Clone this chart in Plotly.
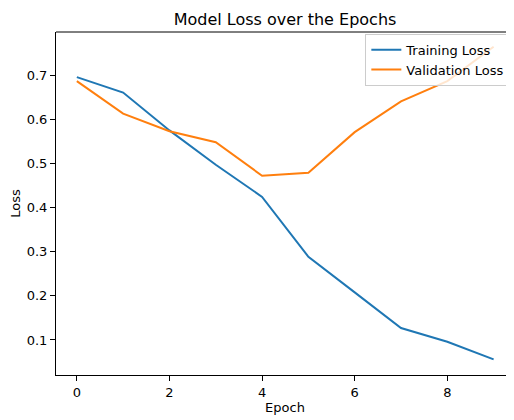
import plotly.graph_objects as go

epochs = [0, 1, 2, 3, 4, 5, 6, 7, 8, 9]
training_loss = [0.697, 0.662, 0.576, 0.498, 0.425, 0.289, 0.208, 0.127, 0.096, 0.056]
validation_loss = [0.688, 0.614, 0.574, 0.549, 0.473, 0.480, 0.572, 0.642, 0.688, 0.766]

FONT = "DejaVu Sans"
OFF = 8  # page body margin
W, H = 514 - OFF, 420 - OFF

fig = go.Figure()
fig.add_trace(go.Scatter(x=epochs, y=training_loss, mode="lines", name="Training Loss",
                         line=dict(color="#1f77b4", width=2)))
fig.add_trace(go.Scatter(x=epochs, y=validation_loss, mode="lines", name="Validation Loss",
                         line=dict(color="#ff7f0e", width=2)))

axis_common = dict(showgrid=False, zeroline=False, showline=True, linecolor="black", linewidth=1,
                   ticks="outside", ticklen=5, tickwidth=1, tickcolor="black",
                   tickfont=dict(family=FONT, size=13, color="black"))

fig.update_layout(
    width=W, height=H,
    margin=dict(l=56 - OFF, r=0, t=32 - OFF, b=45),
    plot_bgcolor="white", paper_bgcolor="white",
    font=dict(family=FONT, size=13, color="black"),
    title=dict(text="Model Loss over the Epochs", x=(285 - OFF) / W, xanchor="center",
               y=1 - (25 - OFF) / H, yanchor="bottom", yref="container",
               font=dict(family=FONT, size=16, color="black")),
    xaxis=dict(range=[-0.45, 9.44], dtick=2, tick0=0, mirror=False,
               title=dict(text="Epoch", standoff=4, font=dict(family=FONT, size=13)),
               **axis_common),
    yaxis=dict(range=[0.0204, 0.7995], dtick=0.1, tick0=0, tickformat=".1f",
               title=dict(text="Loss", standoff=6, font=dict(family=FONT, size=13)),
               **axis_common),
    legend=dict(x=0.992, y=0.995, xanchor="right", yanchor="top",
                bgcolor="rgba(255,255,255,0.8)", bordercolor="#cccccc", borderwidth=1,
                font=dict(family=FONT, size=13), itemwidth=30, tracegroupgap=0),
    showlegend=True,
)
# top spine
fig.add_shape(type="line", xref="paper", yref="paper", x0=0, x1=1, y0=1, y1=1,
              line=dict(color="black", width=1))

fig.write_html("out.html")
